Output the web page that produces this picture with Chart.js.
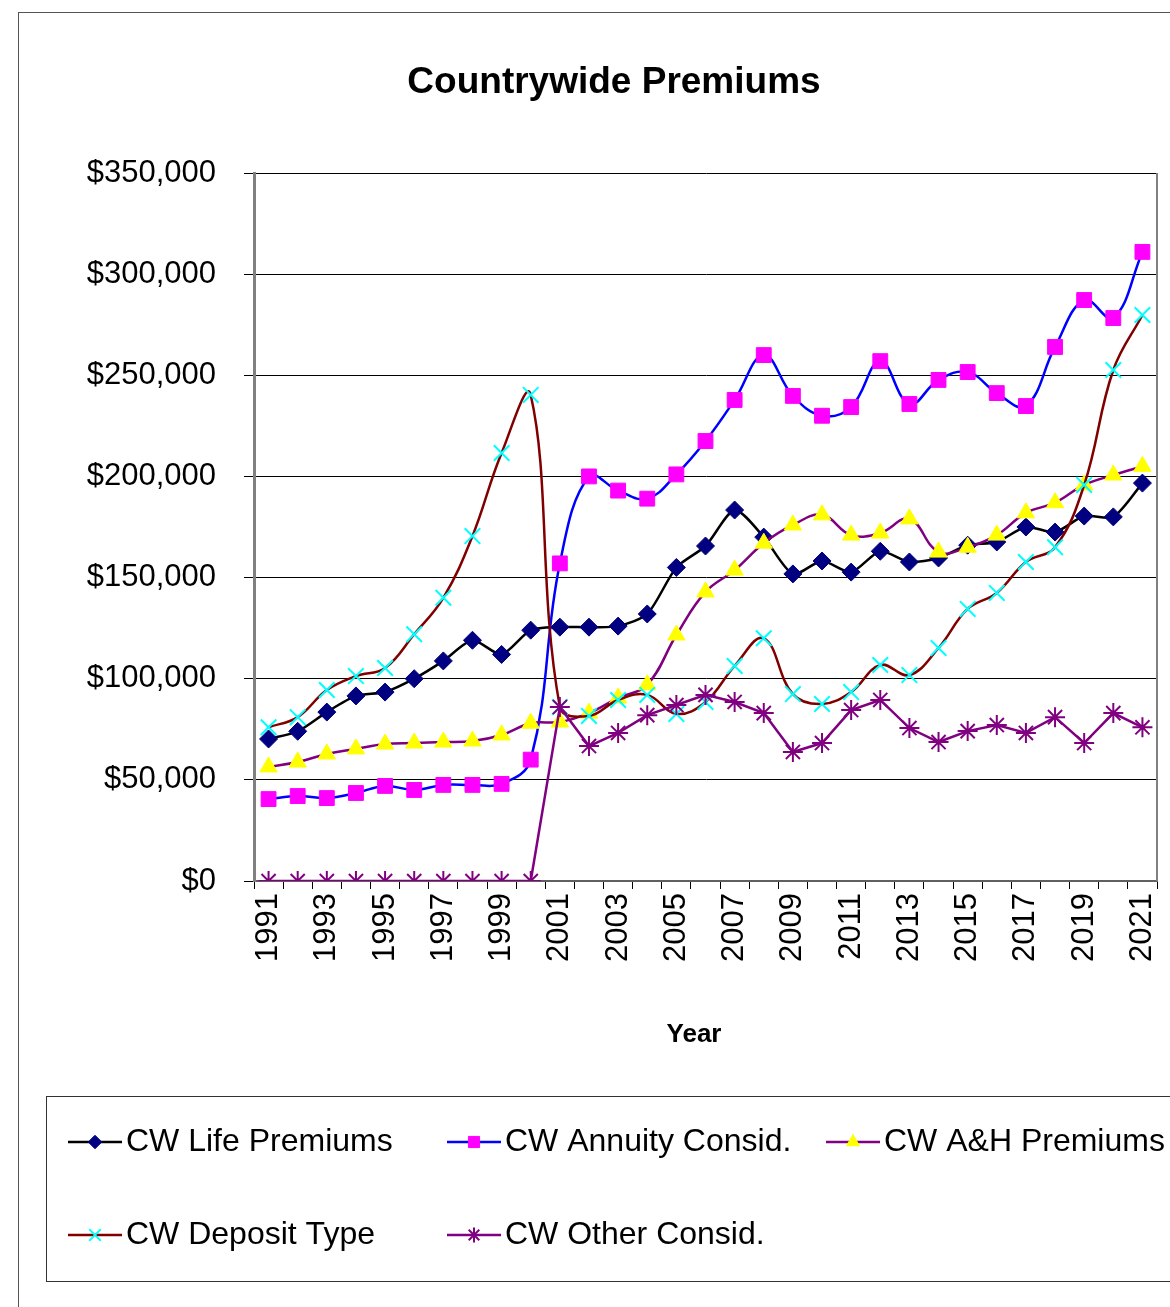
<!DOCTYPE html>
<html>
<head>
<meta charset="utf-8">
<title>Countrywide Premiums</title>
<script src="https://cdn.jsdelivr.net/npm/chart.js@4/dist/chart.umd.min.js"></script>
<style>
  body { margin: 0; background: #fff; }
  canvas { display: block; }
</style>
</head>
<body>
<canvas id="premiumChart" width="1170" height="1307"></canvas>
<script>
// Données
const years = ['1991','1992','1993','1994','1995','1996','1997','1998','1999','2000',
  '2001','2002','2003','2004','2005','2006','2007','2008','2009','2010',
  '2011','2012','2013','2014','2015','2016','2017','2018','2019','2020','2021'];

const lifePremiums = [70200, 74000, 83500, 91500, 93400, 100000, 108800, 119000, 112000, 124000,
  125500, 125500, 126000, 132000, 155000, 165600, 183400, 170000, 151800, 158200,
  152700, 163000, 157700, 159700, 166000, 167600, 175000, 172500, 180400, 180000, 196700];

const annuityConsid = [40500, 42000, 41000, 43500, 47000, 45000, 47500, 47500, 48000, 60000,
  157000, 200000, 193000, 189000, 201000, 217500, 237800, 260000, 239800, 230000,
  234300, 257000, 235800, 247700, 251600, 241200, 234800, 264000, 287200, 278300, 311000];

const ahPremiums = [56400, 58800, 62800, 65300, 67700, 68200, 68700, 69200, 72200, 78000,
  78600, 83000, 90500, 97000, 121600, 142900, 153700, 167000, 176000, 181000,
  171000, 172000, 179000, 162600, 165000, 171000, 182000, 187000, 195800, 200700, 205000];

const depositType = [76000, 81000, 94400, 101300, 105300, 122000, 140000, 170500, 211600, 240300,
  86000, 81600, 89500, 92000, 82600, 88500, 106300, 120000, 92400, 87500,
  93400, 106800, 101800, 115200, 134500, 142400, 157700, 165000, 195800, 252600, 279800];

const otherConsid = [0, 0, 0, 0, 0, 0, 0, 0, 0, 0,
  86000, 66700, 73200, 82000, 87000, 92000, 88500, 83000, 63800, 68200,
  84500, 89500, 75600, 68700, 74100, 77100, 73200, 81000, 68200, 83000, 76000];

const yTicks = [0, 50000, 100000, 150000, 200000, 250000, 300000, 350000];

const FONT = "'Liberation Sans', Arial, Helvetica, sans-serif";

// Séries
const datasets = [
  { label: 'CW Life Premiums', data: lifePremiums, borderColor: '#000000', borderWidth: 2.5,
    pointStyle: 'rectRot', pointRadius: 9, pointBackgroundColor: '#000080', pointBorderColor: '#000080',
    pointBorderWidth: 1, tension: 0.25, order: 4 },
  { label: 'CW Annuity Consid.', data: annuityConsid, borderColor: '#0000ff', borderWidth: 2.5,
    pointStyle: 'rect', pointRadius: 10.5, pointBackgroundColor: '#ff00ff', pointBorderColor: '#ff00ff',
    pointBorderWidth: 1, tension: 0.4, order: 3 },
  { label: 'CW A&H Premiums', data: ahPremiums, borderColor: '#800080', borderWidth: 2.5,
    pointStyle: 'triangle', pointRadius: 10, pointBackgroundColor: '#ffff00', pointBorderColor: '#ffff00',
    pointBorderWidth: 1, tension: 0.4, order: 2 },
  { label: 'CW Deposit Type', data: depositType, borderColor: '#800000', borderWidth: 2.5,
    pointStyle: 'crossRot', pointRadius: 11, pointBackgroundColor: '#00ffff', pointBorderColor: '#00ffff',
    pointBorderWidth: 2, tension: 0.4, order: 1 },
  { label: 'CW Other Consid.', data: otherConsid, borderColor: '#800080', borderWidth: 2.5,
    pointStyle: 'star', pointRadius: 10, pointBackgroundColor: '#800080', pointBorderColor: '#800080',
    pointBorderWidth: 2, tension: 0, order: 0 }
];
datasets.forEach(ds => { ds.fill = false; ds.pointHoverRadius = ds.pointRadius; });

// Cadre, titre, titre d'axe et légende dessinés à la main
const decorPlugin = {
  id: 'decor',
  afterDraw(chart) {
    const ctx = chart.ctx;
    const area = chart.chartArea;
    ctx.save();

    // cadre extérieur
    ctx.strokeStyle = '#555555';
    ctx.lineWidth = 1;
    ctx.strokeRect(18.5, 12.5, 1200, 1310);

    // bordure de la zone de tracé
    ctx.strokeStyle = '#808080';
    ctx.lineWidth = 2;
    ctx.beginPath();
    ctx.moveTo(area.right, area.top);
    ctx.lineTo(area.right, area.bottom);
    ctx.stroke();

    // titre
    ctx.fillStyle = '#000';
    ctx.font = 'bold 37px ' + FONT;
    ctx.textAlign = 'center';
    ctx.textBaseline = 'middle';
    ctx.fillText('Countrywide Premiums', 614, 83);

    // titre de l'axe X
    ctx.font = 'bold 26px ' + FONT;
    ctx.fillText('Year', 694, 1035);

    // légende
    ctx.strokeStyle = '#333333';
    ctx.lineWidth = 1;
    ctx.strokeRect(46.5, 1096.5, 1200, 185);

    const spots = [[68, 1142], [447, 1142], [826, 1142], [68, 1235], [447, 1235]];
    datasets.forEach((ds, i) => {
      const [x, y] = spots[i];
      ctx.strokeStyle = ds.borderColor;
      ctx.lineWidth = 2.5;
      ctx.beginPath();
      ctx.moveTo(x, y);
      ctx.lineTo(x + 54, y);
      ctx.stroke();
      ctx.fillStyle = ds.pointBackgroundColor;
      ctx.strokeStyle = ds.pointBorderColor;
      ctx.lineWidth = ds.pointBorderWidth;
      Chart.helpers.drawPoint(ctx, {
        pointStyle: ds.pointStyle,
        radius: ds.pointRadius * 0.75,
        rotation: 0,
        borderWidth: ds.pointBorderWidth
      }, x + 27, y);
      ctx.fillStyle = '#000';
      ctx.font = '32px ' + FONT;
      ctx.textAlign = 'left';
      ctx.textBaseline = 'middle';
      ctx.fillText(ds.label, x + 58, y);
    });

    ctx.restore();
  }
};

const chart = new Chart(document.getElementById('premiumChart'), {
  type: 'line',
  data: { labels: years, datasets: datasets },
  plugins: [decorPlugin],
  options: {
    responsive: false,
    animation: false,
    layout: { padding: { left: 20, right: 12, top: 173, bottom: 326 } },
    plugins: {
      legend: { display: false },
      title: { display: false },
      tooltip: { enabled: false }
    },
    scales: {
      x: {
        offset: true,
        afterFit: function(scale) {
          scale.height = 100;
          scale.paddingLeft = 0;
          scale.paddingRight = 0;
        },
        grid: { offset: true, drawOnChartArea: false, drawTicks: true, tickLength: 8, color: '#000' },
        border: { color: '#606060', width: 2 },
        ticks: {
          autoSkip: false,
          minRotation: 90,
          maxRotation: 90,
          padding: 4,
          color: '#000',
          font: { family: FONT, size: 31 },
          callback: function(value, index) {
            return index % 2 === 0 ? years[index] : '';
          }
        }
      },
      y: {
        min: 0,
        max: 350000,
        afterFit: function(scale) {
          scale.width = 234;
          scale.paddingTop = 0;
          scale.paddingBottom = 0;
        },
        afterBuildTicks: function(scale) { scale.ticks = yTicks.map(v => ({ value: v })); },
        grid: { color: '#000', lineWidth: 1, tickLength: 10 },
        border: { color: '#808080', width: 3 },
        ticks: {
          padding: 28,
          color: '#000',
          font: { family: FONT, size: 31 },
          callback: function(value) {
            return '$' + value.toLocaleString('en-US');
          }
        }
      }
    }
  }
});
</script>
</body>
</html>
